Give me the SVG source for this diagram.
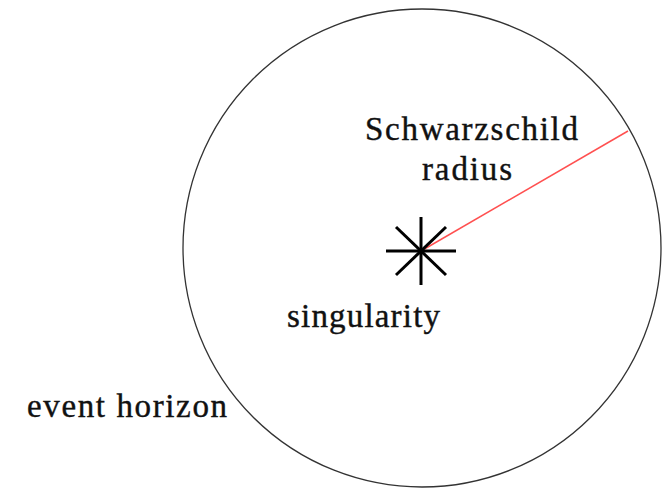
<svg xmlns="http://www.w3.org/2000/svg" width="670" height="489" viewBox="0 0 670 489">
<style>
.lbl{font-family:"Liberation Serif","Times New Roman",serif;font-size:33px;fill:#111;stroke:#111;stroke-width:0.4}
.star line{stroke:#000;stroke-width:3;stroke-linecap:butt}
</style>
<rect width="670" height="489" fill="#fff"/>
<g id="event-horizon">
<circle cx="422" cy="248" r="239" fill="none" stroke="#333" stroke-width="1.3"/>
<text class="lbl" x="27" y="417" textLength="200" lengthAdjust="spacing">event horizon</text>
</g>
<g id="connectors">
<line x1="421" y1="251" x2="628" y2="131" stroke="#ff5050" stroke-width="1.5"/>
</g>
<g id="schwarzschild-radius">
<text class="lbl" x="365" y="140" textLength="213" lengthAdjust="spacing">Schwarzschild</text>
<text class="lbl" x="422" y="180" textLength="90" lengthAdjust="spacing">radius</text>
</g>
<g id="singularity">
<g class="star">
<line x1="386" y1="251" x2="456" y2="251"/>
<line x1="421" y1="217" x2="421" y2="285"/>
<line x1="396" y1="227" x2="446" y2="275"/>
<line x1="396" y1="275" x2="446" y2="227"/>
</g>
<text class="lbl" x="287" y="327" textLength="153" lengthAdjust="spacing">singularity</text>
</g>
</svg>
